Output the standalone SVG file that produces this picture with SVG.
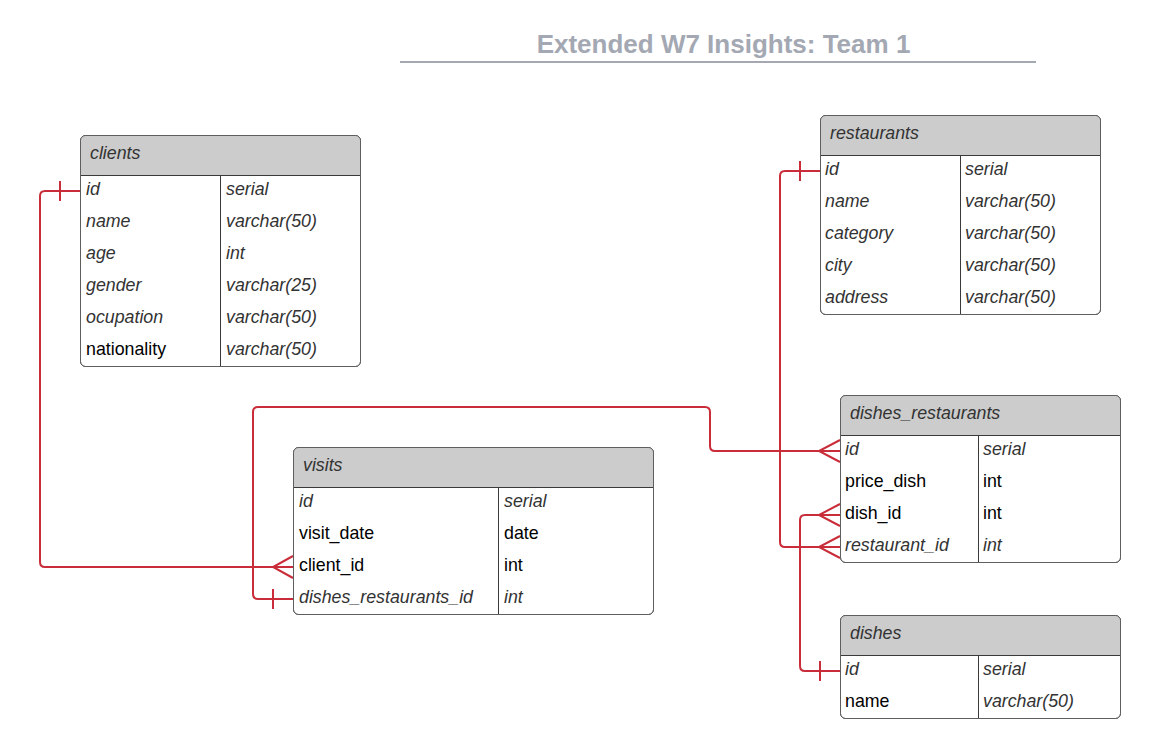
<svg xmlns="http://www.w3.org/2000/svg" width="1167" height="747" viewBox="0 0 1167 747">
<style>
text{font-family:"Liberation Sans",Arial,sans-serif;font-size:17.8px}
.title{font-size:26px;font-weight:bold;fill:#a3a8b3}
.i{font-style:italic;fill:#333}
.n{fill:#000}
.box{fill:#fff;stroke:#5e5e5e;stroke-width:1}
.frame{fill:none;stroke:#5e5e5e;stroke-width:1}
.hdr{fill:#cccccc;stroke:none}
.ln{stroke:#3a3a3a;stroke-width:1}
.c{fill:none;stroke:#c92d39;stroke-width:2}
</style>
<rect width="1167" height="747" fill="#fff"/>
<g id="title">
<text class="title" x="723.5" y="53" text-anchor="middle">Extended W7 Insights: Team 1</text>
<line x1="400" y1="62" x2="1036" y2="62" stroke="#a3a8b3" stroke-width="2"/>
</g>
<g id="connectors">
<path class="c" d="M80,191 H45 Q40,191 40,196 V562 Q40,567 45,567 H293"/>
<path class="c" d="M60,181 V201 M293,556 L273,567 L293,578"/>
<path class="c" d="M293,599 H258 Q253,599 253,594 V412 Q253,407 258,407 H705 Q710,407 710,412 V446 Q710,451 715,451 H840"/>
<path class="c" d="M273,589 V609 M840,440 L819,451 L840,462"/>
<path class="c" d="M820,171 H785 Q780,171 780,176 V542 Q780,547 785,547 H840"/>
<path class="c" d="M800,161 V181 M840,536 L819,547 L840,558"/>
<path class="c" d="M840,671 H805 Q800,671 800,666 V520 Q800,515 805,515 H840"/>
<path class="c" d="M820,661 V681 M840,504 L819,515 L840,526"/>
</g>
<g id="clients">
<rect class="box" x="80.5" y="135.5" width="280" height="231" rx="5"/>
<path class="hdr" d="M81,175 V140 Q81,136 85,136 H356 Q360,136 360,140 V175 Z"/>
<line class="ln" x1="80.5" y1="175.5" x2="360.5" y2="175.5"/>
<line class="ln" x1="220.5" y1="175.5" x2="220.5" y2="366.5"/>
<rect class="frame" x="80.5" y="135.5" width="280" height="231" rx="5"/>
<text class="i" x="90" y="159">clients</text>
<text class="i" x="86" y="195">id</text><text class="i" x="226" y="195">serial</text>
<text class="i" x="86" y="227">name</text><text class="i" x="226" y="227">varchar(50)</text>
<text class="i" x="86" y="259">age</text><text class="i" x="226" y="259">int</text>
<text class="i" x="86" y="291">gender</text><text class="i" x="226" y="291">varchar(25)</text>
<text class="i" x="86" y="323">ocupation</text><text class="i" x="226" y="323">varchar(50)</text>
<text class="n" x="86" y="355">nationality</text><text class="i" x="226" y="355">varchar(50)</text>
</g>
<g id="restaurants">
<rect class="box" x="820.5" y="115.5" width="280" height="199" rx="5"/>
<path class="hdr" d="M821,155 V120 Q821,116 825,116 H1096 Q1100,116 1100,120 V155 Z"/>
<line class="ln" x1="820.5" y1="155.5" x2="1100.5" y2="155.5"/>
<line class="ln" x1="960.5" y1="155.5" x2="960.5" y2="314.5"/>
<rect class="frame" x="820.5" y="115.5" width="280" height="199" rx="5"/>
<text class="i" x="830" y="139">restaurants</text>
<text class="i" x="825" y="175">id</text><text class="i" x="965" y="175">serial</text>
<text class="i" x="825" y="207">name</text><text class="i" x="965" y="207">varchar(50)</text>
<text class="i" x="825" y="239">category</text><text class="i" x="965" y="239">varchar(50)</text>
<text class="i" x="825" y="271">city</text><text class="i" x="965" y="271">varchar(50)</text>
<text class="i" x="825" y="303">address</text><text class="i" x="965" y="303">varchar(50)</text>
</g>
<g id="visits">
<rect class="box" x="293.5" y="447.5" width="360" height="167" rx="5"/>
<path class="hdr" d="M294,487 V452 Q294,448 298,448 H649 Q653,448 653,452 V487 Z"/>
<line class="ln" x1="293.5" y1="487.5" x2="653.5" y2="487.5"/>
<line class="ln" x1="498.5" y1="487.5" x2="498.5" y2="614.5"/>
<rect class="frame" x="293.5" y="447.5" width="360" height="167" rx="5"/>
<text class="i" x="303" y="471">visits</text>
<text class="i" x="299" y="507">id</text><text class="i" x="504" y="507">serial</text>
<text class="n" x="299" y="539">visit_date</text><text class="n" x="504" y="539">date</text>
<text class="n" x="299" y="571">client_id</text><text class="n" x="504" y="571">int</text>
<text class="i" x="299" y="603">dishes_restaurants_id</text><text class="i" x="504" y="603">int</text>
</g>
<g id="dishes_restaurants">
<rect class="box" x="840.5" y="395.5" width="280" height="167" rx="5"/>
<path class="hdr" d="M841,435 V400 Q841,396 845,396 H1116 Q1120,396 1120,400 V435 Z"/>
<line class="ln" x1="840.5" y1="435.5" x2="1120.5" y2="435.5"/>
<line class="ln" x1="978.5" y1="435.5" x2="978.5" y2="562.5"/>
<rect class="frame" x="840.5" y="395.5" width="280" height="167" rx="5"/>
<text class="i" x="850" y="419">dishes_restaurants</text>
<text class="i" x="845" y="455">id</text><text class="i" x="983" y="455">serial</text>
<text class="n" x="845" y="487">price_dish</text><text class="n" x="983" y="487">int</text>
<text class="n" x="845" y="519">dish_id</text><text class="n" x="983" y="519">int</text>
<text class="i" x="845" y="551">restaurant_id</text><text class="i" x="983" y="551">int</text>
</g>
<g id="dishes">
<rect class="box" x="840.5" y="615.5" width="280" height="103" rx="5"/>
<path class="hdr" d="M841,655 V620 Q841,616 845,616 H1116 Q1120,616 1120,620 V655 Z"/>
<line class="ln" x1="840.5" y1="655.5" x2="1120.5" y2="655.5"/>
<line class="ln" x1="978.5" y1="655.5" x2="978.5" y2="718.5"/>
<rect class="frame" x="840.5" y="615.5" width="280" height="103" rx="5"/>
<text class="i" x="850" y="639">dishes</text>
<text class="i" x="845" y="675">id</text><text class="i" x="983" y="675">serial</text>
<text class="n" x="845" y="707">name</text><text class="i" x="983" y="707">varchar(50)</text>
</g>
</svg>
